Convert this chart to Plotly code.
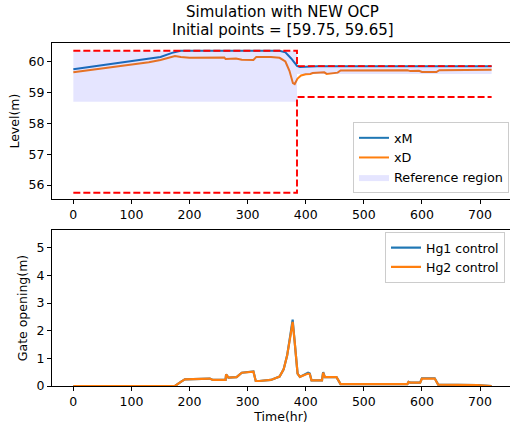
import plotly.graph_objects as go

# ---- Data ----
t_xM = [0, 50, 100, 130, 150, 170, 185, 355, 365, 375, 385, 390, 400, 420, 720]
xM = [59.75, 59.88, 60.0, 60.08, 60.15, 60.28, 60.35, 60.35, 60.3, 60.1, 59.86, 59.82, 59.83, 59.85, 59.85]

t_xD = [0, 50, 100, 130, 150, 175, 185, 200, 260, 262, 280, 290, 310, 315, 340, 355, 365, 372, 378,
        381, 386, 392, 400, 408, 412, 428, 432, 436, 445, 455, 460, 575, 580, 595, 600, 625, 630, 720]
xD = [59.65, 59.77, 59.9, 59.98, 60.05, 60.18, 60.15, 60.12, 60.13, 60.08, 60.1, 60.06, 60.05, 60.15, 60.15,
      60.12, 60.0, 59.7, 59.3, 59.27, 59.45, 59.55, 59.59, 59.6, 59.63, 59.64, 59.65, 59.6, 59.63, 59.64, 59.71,
      59.72, 59.69, 59.7, 59.66, 59.66, 59.72, 59.73]

ref_t = [0, 385, 385, 720]
ref_upper = [60.35, 60.35, 59.85, 59.85]
ref_lower = [58.7, 58.7, 59.6, 59.6]

bound_t = [0, 385, 385, 720]
bound_upper = [60.35, 60.35, 59.85, 59.85]
bound_lower = [55.75, 55.75, 58.85, 58.85]

t_u = [0, 175, 185, 192, 235, 240, 262, 263, 267, 281, 290, 300, 310, 314, 320, 340, 355, 362, 368, 374,
       377.5, 381, 386, 390, 398, 404, 407, 410, 428, 430, 433, 453, 460, 575, 577, 580, 597, 600, 622, 628,
       695, 720]
hg1 = [0, 0, 0.15, 0.24, 0.27, 0.22, 0.22, 0.42, 0.3, 0.32, 0.48, 0.5, 0.53, 0.18, 0.18, 0.22, 0.34, 0.6,
       1.1, 1.9, 2.4, 1.6, 0.45, 0.33, 0.4, 0.48, 0.45, 0.2, 0.2, 0.5, 0.32, 0.32, 0.07, 0.07, 0.15, 0.12,
       0.12, 0.28, 0.28, 0.05, 0.03, 0.0]
hg2 = [0, 0, 0.15, 0.24, 0.27, 0.22, 0.22, 0.42, 0.3, 0.32, 0.48, 0.5, 0.52, 0.18, 0.18, 0.22, 0.34, 0.6,
       1.1, 1.85, 2.32, 1.6, 0.45, 0.33, 0.4, 0.45, 0.43, 0.2, 0.2, 0.48, 0.32, 0.32, 0.07, 0.07, 0.15, 0.12,
       0.12, 0.27, 0.27, 0.05, 0.03, 0.0]

title_lines = ["Simulation with NEW OCP", "Initial points = [59.75, 59.65]"]

BLUE = "#1f77b4"
ORANGE = "#ff7f0e"
RED = "#ff0000"
FONT = "DejaVu Sans"

fig = go.Figure()

fig.add_trace(go.Scatter(x=t_xM, y=xM, mode="lines", name="xM", legendrank=1,
                         line=dict(color=BLUE, width=2), xaxis="x", yaxis="y", legend="legend"))
fig.add_trace(go.Scatter(x=t_xD, y=xD, mode="lines", name="xD", legendrank=2,
                         line=dict(color=ORANGE, width=2), xaxis="x", yaxis="y", legend="legend"))
fig.add_trace(go.Scatter(
    x=ref_t + ref_t[::-1], y=ref_upper + ref_lower[::-1], legendrank=3,
    fill="toself", fillcolor="rgba(0,0,255,0.1)", line=dict(width=0),
    mode="lines", name="Reference region", xaxis="x", yaxis="y", legend="legend",
    hoverinfo="skip"))
fig.add_trace(go.Scatter(x=bound_t, y=bound_upper, mode="lines", showlegend=False,
                         line=dict(color=RED, width=1.9, dash="7px,3px"), xaxis="x", yaxis="y"))
fig.add_trace(go.Scatter(x=bound_t, y=bound_lower, mode="lines", showlegend=False,
                         line=dict(color=RED, width=1.9, dash="7px,3px"), xaxis="x", yaxis="y"))

fig.add_trace(go.Scatter(x=t_u, y=hg1, mode="lines", name="Hg1 control",
                         line=dict(color=BLUE, width=2.2), xaxis="x2", yaxis="y2", legend="legend2"))
fig.add_trace(go.Scatter(x=t_u, y=hg2, mode="lines", name="Hg2 control",
                         line=dict(color=ORANGE, width=2.2), xaxis="x2", yaxis="y2", legend="legend2"))

# Layout in reference pixels (page body margin removed via post_script).
W, H = 510, 432
ml = 52
mr = 0
mt = 43
bottom_ref = 386
mb = H - bottom_ref
ph = H - mt - mb
pw = W - ml - mr


def px_x(xr):
    return (xr - ml) / pw


def px_y(yr):
    return (bottom_ref - yr) / ph


xrange_ = [-36.7, (510 - 73.3) / 0.581]
axis_common = dict(showline=True, linecolor="black", linewidth=1, ticks="outside", ticklen=4,
                   tickwidth=1, tickcolor="black", showgrid=False, zeroline=False, automargin=False,
                   tickfont=dict(family=FONT, size=12.5, color="black"))

annotations = [
    dict(text=title_lines[0], x=px_x(282.8), y=px_y(12), xref="paper", yref="paper",
         xanchor="center", yanchor="middle", showarrow=False,
         font=dict(family=FONT, size=15, color="black")),
    dict(text=title_lines[1], x=px_x(282.8), y=px_y(30), xref="paper", yref="paper",
         xanchor="center", yanchor="middle", showarrow=False,
         font=dict(family=FONT, size=15, color="black")),
]

fig.update_layout(
    width=W, height=H,
    margin=dict(l=ml, r=mr, t=mt, b=mb, autoexpand=False),
    plot_bgcolor="white", paper_bgcolor="white",
    font=dict(family=FONT, size=12.5, color="black"),
    annotations=annotations,
    xaxis=dict(range=xrange_, domain=[0, 1], anchor="y", mirror=True,
               tickvals=[0, 100, 200, 300, 400, 500, 600, 700], **axis_common),
    yaxis=dict(range=[55.54, 60.60], domain=[px_y(199.3), 1], anchor="x",
               tickvals=[56, 57, 58, 59, 60],
               title=dict(text="Level(m)", standoff=6, font=dict(family=FONT, size=12.5)),
               **axis_common),
    xaxis2=dict(range=xrange_, domain=[0, 1], anchor="y2", mirror=True,
                tickvals=[0, 100, 200, 300, 400, 500, 600, 700],
                title=dict(text="Time(hr)", standoff=4, font=dict(family=FONT, size=12.5)),
                **axis_common),
    yaxis2=dict(range=[0, 5.64], domain=[0, px_y(230)], anchor="x2",
                tickvals=[0, 1, 2, 3, 4, 5],
                title=dict(text="Gate opening(m)", standoff=6, font=dict(family=FONT, size=12.5)),
                **axis_common),
    legend=dict(x=px_x(509), xanchor="right", y=px_y(193), yanchor="bottom",
                bgcolor="rgba(255,255,255,0.8)", bordercolor="#cccccc", borderwidth=1,
                font=dict(family=FONT, size=12.8)),
    legend2=dict(x=px_x(505), xanchor="right", y=px_y(232), yanchor="top",
                 bgcolor="rgba(255,255,255,0.8)", bordercolor="#cccccc", borderwidth=1,
                 font=dict(family=FONT, size=12.5)),
    showlegend=True,
)

fig.write_html("out.html", config={"displayModeBar": False},
               post_script="document.body.style.margin='0px';document.body.style.overflow='hidden';")
